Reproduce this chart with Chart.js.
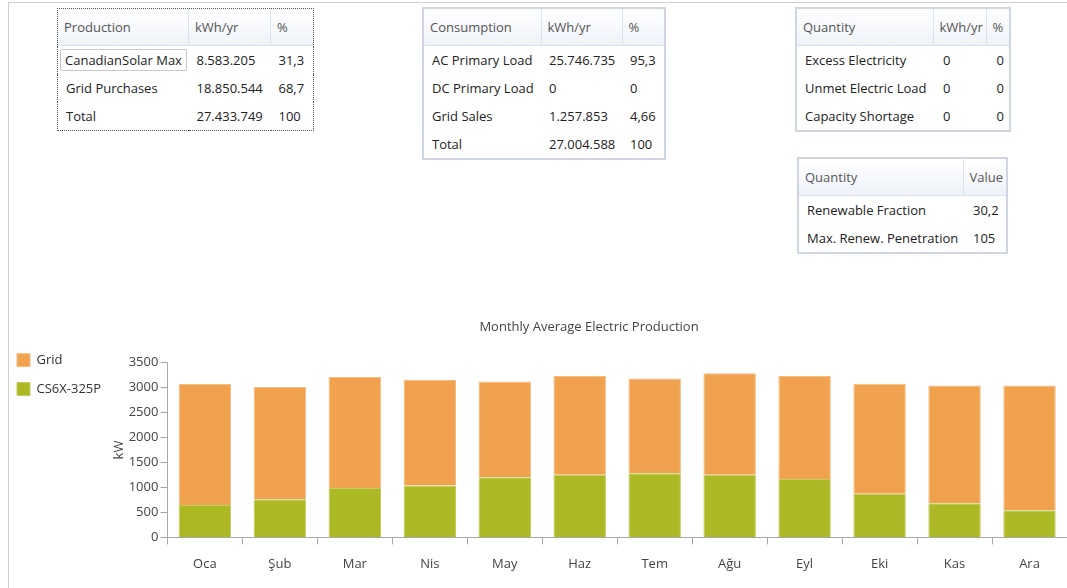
<!DOCTYPE html>
<html>
<head>
<meta charset="utf-8">
<script src="https://cdn.jsdelivr.net/npm/chart.js@4"></script>
<style>
  html, body { margin: 0; padding: 0; background: #fff; overflow: hidden; }
  body { width: 1067px; height: 588px; position: relative; font-family: "Open Sans", sans-serif; font-size: 13px; color: #222; }
  .frame { position: absolute; left: 8px; top: 2px; right: 0; bottom: -2px; border-top: 1px solid #d0d0d0; border-left: 1px solid #d0d0d0; }
  table.grid { position: absolute; border-collapse: collapse; table-layout: fixed; border: 2px solid #cfd6e1; }
  table.grid th { height: 36px; font-weight: normal; color: #555; text-align: left; padding: 0 0 0 6px;
    background: linear-gradient(#ffffff, #eef2f8); border-right: 1px solid #dce2ea; border-bottom: 1px solid #dce2ea; }
  table.grid th:last-child { border-right: none; }
  table.grid td { height: 28px; padding: 0 0 0 8px; white-space: nowrap; }
  table.focus { border: 1px dotted #555; }
  td.sel span { display: inline-block; border: 1px solid #c8c8c8; border-radius: 2px; padding: 1px 4px; margin-left: -6px; }
  #chartBox { position: absolute; left: 0; top: 310px; width: 1067px; height: 278px; }
</style>
</head>
<body>
<div class="frame"></div>

<table class="grid focus" id="t1" style="left:57px; top:8px; width:256px;">
  <colgroup><col style="width:131px"><col style="width:82px"><col style="width:43px"></colgroup>
</table>
<table class="grid" id="t2" style="left:422px; top:7px; width:242px;">
  <colgroup><col style="width:118px"><col style="width:81px"><col style="width:43px"></colgroup>
</table>
<table class="grid" id="t3" style="left:795px; top:7px; width:214px;">
  <colgroup><col style="width:137px"><col style="width:53px"><col style="width:24px"></colgroup>
</table>
<table class="grid" id="t4" style="left:797px; top:157px; width:209px;">
  <colgroup><col style="width:165px"><col style="width:44px"></colgroup>
</table>

<div id="chartBox"><canvas id="prodChart"></canvas></div>

<script>
// ---- TABLE DATA ----
const productionHead = ['Production', 'kWh/yr', '%'];
const productionRows = [
  ['CanadianSolar Max', '8.583.205', '31,3'],
  ['Grid Purchases', '18.850.544', '68,7'],
  ['Total', '27.433.749', '100'],
];
const consumptionHead = ['Consumption', 'kWh/yr', '%'];
const consumptionRows = [
  ['AC Primary Load', '25.746.735', '95,3'],
  ['DC Primary Load', '0', '0'],
  ['Grid Sales', '1.257.853', '4,66'],
  ['Total', '27.004.588', '100'],
];
const quantityHead = ['Quantity', 'kWh/yr', '%'];
const quantityRows = [
  ['Excess Electricity', '0', '0'],
  ['Unmet Electric Load', '0', '0'],
  ['Capacity Shortage', '0', '0'],
];
const renewHead = ['Quantity', 'Value'];
const renewRows = [
  ['Renewable Fraction', '30,2'],
  ['Max. Renew. Penetration', '105'],
];

// ---- CHART DATA ----
const months = ['Oca', 'Şub', 'Mar', 'Nis', 'May', 'Haz', 'Tem', 'Ağu', 'Eyl', 'Eki', 'Kas', 'Ara'];
const pvOutput = [650, 765, 990, 1040, 1205, 1255, 1285, 1255, 1170, 875, 685, 545];
const gridOutput = [2420, 2245, 2220, 2110, 1915, 1975, 1895, 2030, 2060, 2200, 2355, 2495];
const yTicks = [0, 500, 1000, 1500, 2000, 2500, 3000, 3500];

function fillTable(id, head, rows, opts) {
  const t = document.getElementById(id);
  const tr = document.createElement('tr');
  head.forEach(h => {
    const th = document.createElement('th');
    th.textContent = h;
    tr.appendChild(th);
  });
  t.appendChild(tr);
  rows.forEach((r, i) => {
    const row = document.createElement('tr');
    r.forEach((c, j) => {
      const td = document.createElement('td');
      if (opts && opts.sel && i === 0 && j === 0) {
        td.className = 'sel';
        const s = document.createElement('span');
        s.textContent = c;
        td.appendChild(s);
      } else {
        td.textContent = c;
      }
      if (opts && opts.right && opts.right.includes(j)) {
        td.style.textAlign = 'right';
        td.style.paddingRight = '5px';
      }
      if (opts && opts.pad && opts.pad[j] != null) td.style.paddingLeft = opts.pad[j] + 'px';
      row.appendChild(td);
    });
    t.appendChild(row);
  });
}

fillTable('t1', productionHead, productionRows, { sel: true });
fillTable('t2', consumptionHead, consumptionRows);
fillTable('t3', quantityHead, quantityRows, { right: [2], pad: { 1: 10 } });
fillTable('t4', renewHead, renewRows, { pad: { 1: 10 } });

// title is centred over the plot part only (legend sits beside it)
const titleShift = {
  id: 'titleShift',
  afterLayout(chart) {
    const tb = chart.titleBlock;
    if (tb) {
      tb.left = chart.scales.y.left;
      tb.width = tb.right - tb.left;
    }
  },
};

// ---- CHART ----
const axisColor = '#a8a8a8';
new Chart(document.getElementById('prodChart'), {
  type: 'bar',
  data: {
    labels: months,
    datasets: [
      {
        label: 'CS6X-325P',
        data: pvOutput,
        backgroundColor: '#adb825',
        borderColor: '#c3cc5e',
        borderWidth: 1,
        categoryPercentage: 1,
        barPercentage: 0.7,
      },
      {
        label: 'Grid',
        data: gridOutput,
        backgroundColor: '#f0a24e',
        borderColor: '#f5bd82',
        borderWidth: 1,
        categoryPercentage: 1,
        barPercentage: 0.7,
      },
    ],
  },
  plugins: [titleShift],
  options: {
    responsive: true,
    maintainAspectRatio: false,
    animation: false,
    layout: { padding: { left: 1, right: 0, bottom: 4, top: 0 } },
    plugins: {
      title: {
        display: true,
        text: 'Monthly Average Electric Production',
        color: '#444',
        font: { family: 'Open Sans', size: 13, weight: 'normal' },
        padding: { top: 9, bottom: 28 },
      },
      legend: {
        position: 'left',
        align: 'start',
        reverse: true,
        title: { display: true, text: ' ', font: { size: 13 }, padding: { top: 6, bottom: 6 } },
        labels: {
          color: '#333',
          font: { family: 'Open Sans', size: 13 },
          boxWidth: 13,
          boxHeight: 13,
          padding: 16,
        },
      },
      tooltip: { enabled: false },
    },
    scales: {
      x: {
        stacked: true,
        border: { color: axisColor, width: 1 },
        grid: { drawOnChartArea: false, drawTicks: true, tickLength: 7, color: axisColor, offset: true },
        ticks: { color: '#444', font: { family: 'Open Sans', size: 13 }, padding: 12, maxRotation: 0 },
      },
      y: {
        stacked: true,
        min: 0,
        max: 3500,
        afterBuildTicks: s => { s.ticks = yTicks.map(v => ({ value: v })); },
        border: { color: axisColor, width: 1 },
        grid: { drawOnChartArea: false, drawTicks: true, tickLength: 7, color: axisColor },
        ticks: { color: '#444', font: { family: 'Open Sans', size: 13 }, padding: 2, callback: v => String(v) },
        title: { display: true, text: 'kW', color: '#444', font: { family: 'Open Sans', size: 13 }, padding: 0 },
      },
    },
  },
});
</script>
</body>
</html>
